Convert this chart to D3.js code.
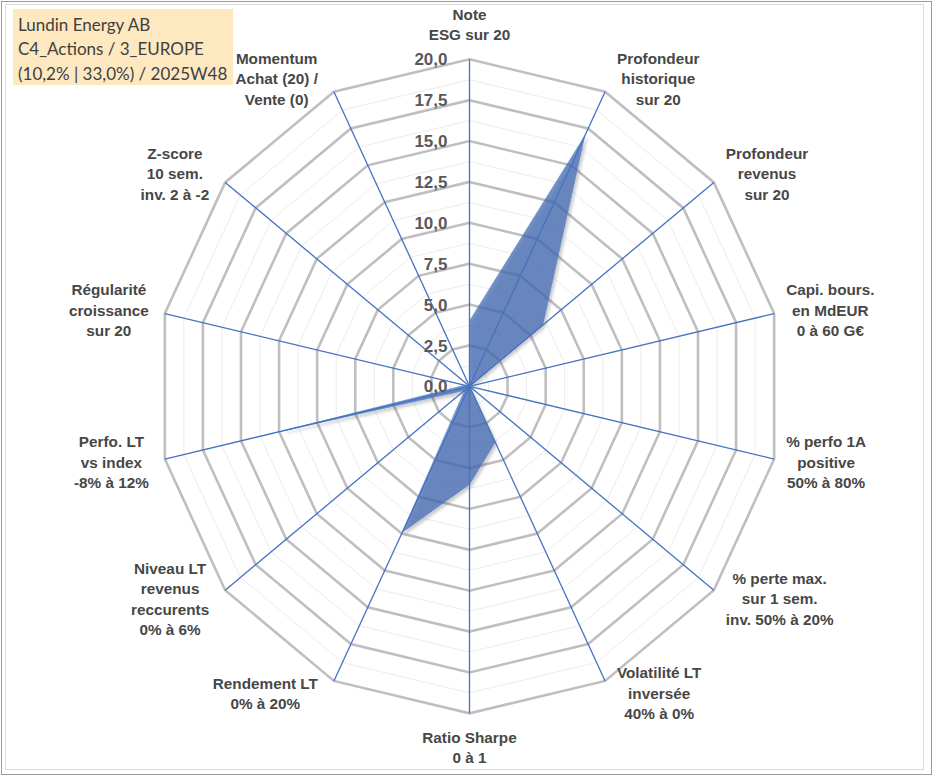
<!DOCTYPE html>
<html>
<head>
<meta charset="utf-8">
<script src="https://cdn.jsdelivr.net/npm/d3@7"></script>
<style>
  body { margin: 0; background: #fff; }
  svg { display: block; }
</style>
</head>
<body>
<div id="radar"></div>
<script>
// chart data
var titleLines = ["Lundin Energy AB", "C4_Actions / 3_EUROPE", "(10,2% | 33,0%) / 2025W48"];
var categories = [
  ["Note", "ESG sur 20"],
  ["Profondeur", "historique", "sur 20"],
  ["Profondeur", "revenus", "sur 20"],
  ["Capi. bours.", "en MdEUR", "0 à 60 G€"],
  ["% perfo 1A", "positive", "50% à 80%"],
  ["% perte max.", "sur 1 sem.", "inv. 50% à 20%"],
  ["Volatilité LT", "inversée", "40% à 0%"],
  ["Ratio Sharpe", "0 à 1"],
  ["Rendement LT", "0% à 20%"],
  ["Niveau LT", "revenus", "reccurents", "0% à 6%"],
  ["Perfo. LT", "vs index", "-8% à 12%"],
  ["Régularité", "croissance", "sur 20"],
  ["Z-score", "10 sem.", "inv. 2 à -2"],
  ["Momentum", "Achat (20) /", "Vente (0)"]
];
var scores = [4, 17, 6, 0, 0, 0, 3.8, 6, 9.9, 0.4, 12.1, 0.3, 0, 0];
var majorTicks = [0, 2.5, 5, 7.5, 10, 12.5, 15, 17.5, 20];
var minorTicks = [1.25, 3.75, 6.25, 8.75, 11.25, 13.75, 16.25, 18.75];

drawRadar(scores, categories);

function drawRadar(values, labels) {
  var W = 933, H = 776;
  var cx = 469.5, cy = 386.3;
  var rx = 312.5, ry = 327;   // picture is a bit squeezed horizontally

  var svg = d3.select("#radar").append("svg")
    .attr("width", W).attr("height", H);

  var defs = svg.append("defs");
  var f = defs.append("filter").attr("id", "shadow")
    .attr("x", "-20%").attr("y", "-20%").attr("width", "140%").attr("height", "140%");
  f.append("feDropShadow")
    .attr("dx", 2).attr("dy", 2.5).attr("stdDeviation", 1.8)
    .attr("flood-color", "#000").attr("flood-opacity", 0.28);

  // frame
  svg.append("rect").attr("x", 1.5).attr("y", 1.5).attr("width", W - 3).attr("height", H - 3)
    .attr("fill", "#fff").attr("stroke", "#9a9a9a");
  svg.append("rect").attr("x", 5.5).attr("y", 4.5).attr("width", 918).attr("height", 765)
    .attr("fill", "none").attr("stroke", "#dcdcdc");

  var sx = d3.scaleLinear().domain([0, 20]).range([0, rx]);
  var sy = d3.scaleLinear().domain([0, 20]).range([0, ry]);
  var angle = d3.scaleLinear().domain([0, labels.length]).range([0, 2 * Math.PI]);

  function pt(i, v) {
    var a = angle(i);
    return [cx + sx(v) * Math.sin(a), cy - sy(v) * Math.cos(a)];
  }
  var idx = d3.range(labels.length);
  var ring = function(v) { return idx.map(function(i) { return pt(i, v); }); };
  var closed = d3.line().curve(d3.curveLinearClosed);

  var fmt = d3.formatLocale({decimal: ",", thousands: " ", grouping: [3], currency: ["", " €"]}).format(".1f");

  // grid rings
  svg.append("g").selectAll("path").data(minorTicks).enter().append("path")
    .attr("d", function(d) { return closed(ring(d)); })
    .attr("fill", "none").attr("stroke", "#ececec").attr("stroke-width", 1);
  svg.append("g").selectAll("path").data(majorTicks.filter(function(d) { return d > 0; })).enter().append("path")
    .attr("d", function(d) { return closed(ring(d)); })
    .attr("fill", "none").attr("stroke", "#bfbfbf").attr("stroke-width", 2.6)
    .attr("stroke-linejoin", "miter");

  // series
  svg.append("path")
    .attr("d", closed(values.map(function(v, i) { return pt(i, v); })))
    .attr("fill", "#3d68b0").attr("fill-opacity", 0.72)
    .attr("stroke", "#5a84c6").attr("stroke-width", 0.6)
    .attr("filter", "url(#shadow)");

  // spokes
  svg.append("g").selectAll("line").data(idx).enter().append("line")
    .attr("x1", cx).attr("y1", cy)
    .attr("x2", function(i) { return pt(i, 20)[0]; })
    .attr("y2", function(i) { return pt(i, 20)[1]; })
    .attr("stroke", "#4472c4").attr("stroke-width", 1.3);

  // tick labels
  svg.append("g").selectAll("text").data(majorTicks).enter().append("text")
    .attr("x", cx - 22)
    .attr("y", function(d) { return cy - sy(d); })
    .attr("dy", "0.36em")
    .attr("text-anchor", "end")
    .style("font-family", "'Liberation Sans', Arial, sans-serif")
    .style("font-weight", "bold")
    .style("font-size", "17px")
    .style("fill", "#595959")
    .text(function(d) { return fmt(d); });

  // category labels
  var lh = 20.5;
  var lab = svg.append("g").selectAll("text").data(idx).enter().append("text")
    .style("font-family", "'Liberation Sans', Arial, sans-serif")
    .style("font-weight", "bold")
    .style("font-size", "15.3px")
    .style("fill", "#474747")
    .attr("text-anchor", "middle");
  lab.each(function(i) {
    var t = d3.select(this);
    var lines = labels[i];
    lines.forEach(function(s) { t.append("tspan").text(s); });
    var wmax = 0;
    t.selectAll("tspan").each(function() { wmax = Math.max(wmax, this.getComputedTextLength()); });
    var a = angle(i), s = Math.sin(a), c = Math.cos(a);
    var p = pt(i, 20);
    var bh = lines.length * lh;
    var x, yc;
    if (Math.abs(s) < 0.01) {
      x = p[0];
      yc = p[1] - Math.sign(c) * (bh / 2 + 14);
    } else {
      x = p[0] + Math.sign(s) * (wmax / 2 + (s < 0 ? 16 : 12));
      yc = p[1] - 14 * c;
    }
    t.selectAll("tspan")
      .attr("x", x)
      .attr("y", function(d, k) { return yc - bh / 2 + lh * k + lh / 2; })
      .attr("dy", "0.35em");
  });

  // title box
  svg.append("rect").attr("x", 13).attr("y", 9).attr("width", 220).attr("height", 76)
    .attr("fill", "#fde8c0");
  svg.append("g").selectAll("text").data(titleLines).enter().append("text")
    .attr("x", 18)
    .attr("y", function(d, k) { return 30.5 + k * 24.5; })
    .style("font-family", "Lato, 'Noto Sans', sans-serif")
    .style("font-size", "17px")
    .style("fill", "#404040")
    .text(function(d) { return d; });
}
</script>
</body>
</html>
